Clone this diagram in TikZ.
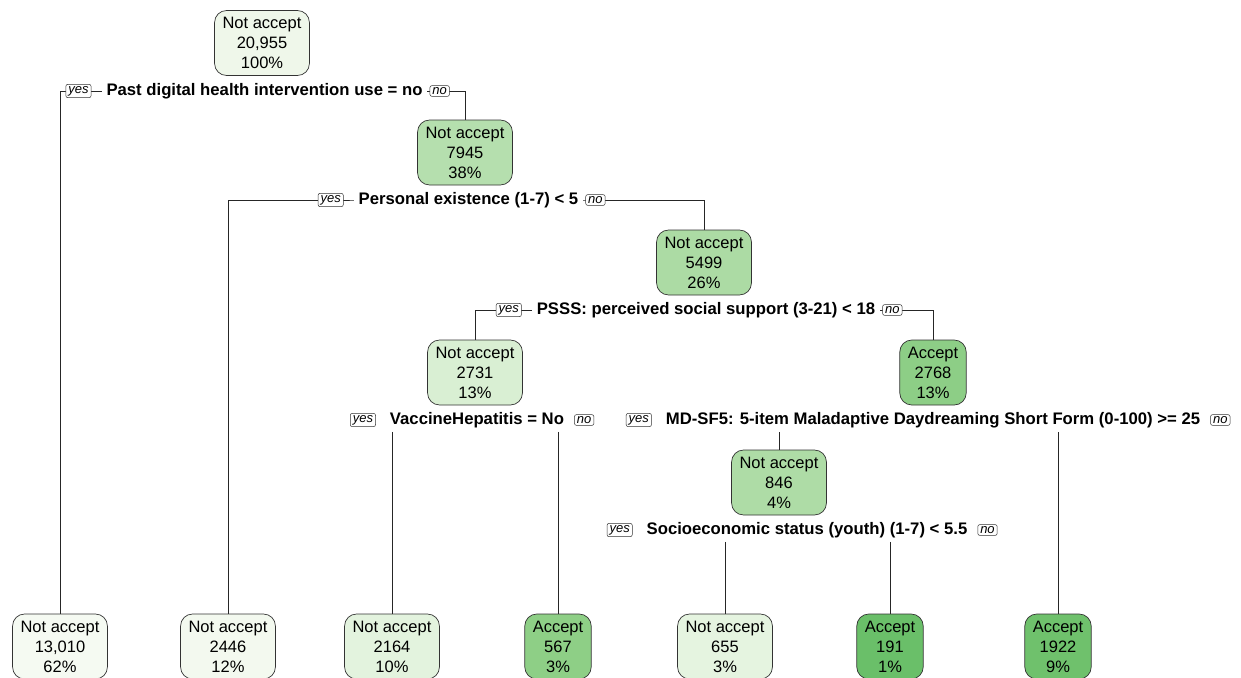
\documentclass[tikz,border=0pt]{standalone}
\usepackage{fontspec}
\setmainfont{Liberation Sans}
\usetikzlibrary{backgrounds}
\definecolor{c0}{HTML}{EFF7EA}
\definecolor{c7945}{HTML}{B5DFAE}
\definecolor{c5499}{HTML}{ACDBA4}
\definecolor{c2731}{HTML}{D9EFD3}
\definecolor{c2768}{HTML}{8DCE86}
\definecolor{c846}{HTML}{AEDCA6}
\definecolor{cL1}{HTML}{F5FAF2}
\definecolor{cL2}{HTML}{F3F9EF}
\definecolor{cL3}{HTML}{E3F3DE}
\definecolor{cL4}{HTML}{8ECF86}
\definecolor{cL5}{HTML}{E5F4E0}
\definecolor{cL6}{HTML}{6ABF69}
\definecolor{cL7}{HTML}{6FC16C}
\tikzset{
  tnode/.style={draw=black!80, rounded corners=12pt, align=center,
    font=\fontsize{16.5}{20}\selectfont, inner xsep=8pt, inner ysep=2pt,
    minimum height=65pt, line width=0.7pt},
  splitlab/.style={font=\bfseries\fontsize{16.7}{20}\selectfont, fill=white, inner xsep=5pt, inner ysep=1pt},
  ynbox/.style={draw=black!80, rounded corners=2pt, font=\itshape\fontsize{13}{14}\selectfont,
    inner xsep=2.5pt, inner ysep=1.8pt, fill=white, line width=0.5pt},
  edge/.style={draw=black!85, line width=0.7pt}
}
\begin{document}
\begin{tikzpicture}[x=1pt,y=-1pt]
\useasboundingbox (0,0) rectangle (1241,677);
\clip (0,0) rectangle (1241,677);
% internal nodes
\node[tnode, fill=c0] (n1) at (262,43) {Not accept\\20,955\\100\%};
\node[tnode, fill=c7945] (n2) at (465,152.5) {Not accept\\7945\\38\%};
\node[tnode, fill=c5499] (n3) at (704,262.5) {Not accept\\5499\\26\%};
\node[tnode, fill=c2731] (n4) at (475,372.5) {Not accept\\2731\\13\%};
\node[tnode, fill=c2768] (n5) at (933,372.5) {Accept\\2768\\13\%};
\node[tnode, fill=c846] (n6) at (779,482.5) {Not accept\\846\\4\%};
% leaves
\node[tnode, fill=cL1] (l1) at (60,646.5) {Not accept\\13,010\\62\%};
\node[tnode, fill=cL2] (l2) at (228,646.5) {Not accept\\2446\\12\%};
\node[tnode, fill=cL3] (l3) at (392,646.5) {Not accept\\2164\\10\%};
\node[tnode, fill=cL4] (l4) at (558,646.5) {Accept\\567\\3\%};
\node[tnode, fill=cL5] (l5) at (725,646.5) {Not accept\\655\\3\%};
\node[tnode, fill=cL6] (l6) at (890,646.5) {Accept\\191\\1\%};
\node[tnode, fill=cL7] (l7) at (1058,646.5) {Accept\\1922\\9\%};
% split labels
\node[splitlab] (s1) at (264.5,91) {Past digital health intervention use = no};
\node[ynbox, anchor=east] (y1) at ([xshift=-10pt]s1.west) {yes};
\node[ynbox, anchor=west] (o1) at ([xshift=2pt]s1.east) {no};
\node[splitlab] (s2) at (468.5,200) {Personal existence (1-7) < 5};
\node[ynbox, anchor=east] (y2) at ([xshift=-10pt]s2.west) {yes};
\node[ynbox, anchor=west] (o2) at ([xshift=2pt]s2.east) {no};
\node[splitlab] (s3) at (706,310) {PSSS: perceived social support (3-21) < 18};
\node[ynbox, anchor=east] (y3) at ([xshift=-10pt]s3.west) {yes};
\node[ynbox, anchor=west] (o3) at ([xshift=2pt]s3.east) {no};
\node[splitlab] (s4) at (477,420) {VaccineHepatitis = No};
\node[ynbox, anchor=east] (y4) at ([xshift=-9pt]s4.west) {yes};
\node[ynbox, anchor=west] (o4) at ([xshift=5pt]s4.east) {no};
\node[splitlab] (s5) at (933,420) {MD-SF5: 5-item Maladaptive Daydreaming Short Form (0-100) >= 25};
\node[ynbox, anchor=east] (y5) at ([xshift=-9pt]s5.west) {yes};
\node[ynbox, anchor=west] (o5) at ([xshift=5pt]s5.east) {no};
\node[splitlab] (s6) at (807,530) {Socioeconomic status (youth) (1-7) < 5.5};
\node[ynbox, anchor=east] (y6) at ([xshift=-9pt]s6.west) {yes};
\node[ynbox, anchor=west] (o6) at ([xshift=5pt]s6.east) {no};
% connectors
\begin{pgfonlayer}{background}
\fill[white] (0,0) rectangle (1241,677);
\draw[edge] (l1.north) |- (s1.center) -| (n2.north);
\draw[edge] (l2.north) |- (s2.center) -| (n3.north);
\draw[edge] (n4.north) |- (s3.center) -| (n5.north);
\draw[edge] ([yshift=-3pt]s4.south -| l3.north) -- (l3.north);
\draw[edge] ([yshift=-3pt]s4.south -| l4.north) -- (l4.north);
\draw[edge] ([yshift=-3pt]s5.south -| n6.north) -- (n6.north);
\draw[edge] ([yshift=-3pt]s5.south -| l7.north) -- (l7.north);
\draw[edge] ([yshift=-3pt]s6.south -| l5.north) -- (l5.north);
\draw[edge] ([yshift=-3pt]s6.south -| l6.north) -- (l6.north);
\end{pgfonlayer}
\end{tikzpicture}
\end{document}
